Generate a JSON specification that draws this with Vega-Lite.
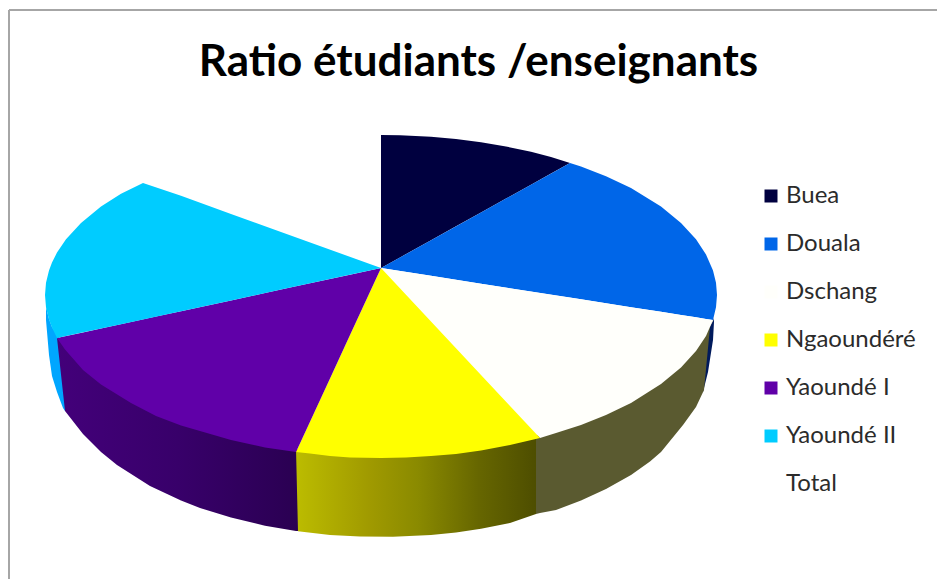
{
"$schema":"https://vega.github.io/schema/vega-lite/v6.json",
"width":937,"height":579,"padding":0,"autosize":{"type":"none"},
"background":"white",
"view":{"stroke":null},
"title":{"text":"Ratio étudiants /enseignants","font":"Lato","fontSize":44,"fontWeight":"bold","color":"#000000","anchor":"middle","offset":-85,"dx":10},
"datasets":{
"frame":[{"x":9,"x2":9,"y":10,"y2":579},{"x":9,"x2":937,"y":10,"y2":10}],
"wallCyan":[{"x":46,"y":307,"y2":320},{"x":49,"y":319,"y2":355},{"x":52,"y":327,"y2":376},{"x":57,"y":335,"y2":392},{"x":63,"y":343,"y2":408},{"x":65,"y":346,"y2":411}],
"wallDouala":[{"x":703,"y":388,"y2":392},{"x":708,"y":330,"y2":372},{"x":713,"y":321,"y2":340},{"x":714,"y":318,"y2":322}],
"wallPurple":[{"x":57,"y":338,"y2":338},{"x":65,"y":346,"y2":411},{"x":83,"y":367,"y2":434},{"x":101,"y":381.5,"y2":452},{"x":117,"y":392.5,"y2":465},{"x":150,"y":410,"y2":486},{"x":181,"y":422.5,"y2":500.6},{"x":200,"y":429,"y2":508},{"x":231,"y":437,"y2":517.6},{"x":265,"y":444.5,"y2":525.7},{"x":296,"y":449,"y2":531},{"x":298,"y":449,"y2":531}],
"wallYellow":[{"x":296,"y":449,"y2":449},{"x":298,"y":449.3,"y2":531.3},{"x":330,"y":453,"y2":534.9},{"x":360,"y":454.8,"y2":536.5},{"x":393,"y":455,"y2":536.8},{"x":431,"y":453,"y2":535},{"x":456,"y":451,"y2":532.4},{"x":481,"y":447.5,"y2":528.7},{"x":510,"y":442,"y2":522.9},{"x":536,"y":436,"y2":514},{"x":540,"y":435,"y2":435}],
"wallWhite":[{"x":536,"y":436,"y2":514},{"x":540,"y":435,"y2":513},{"x":556,"y":430,"y2":510},{"x":581,"y":422,"y2":500.6},{"x":606,"y":412,"y2":489},{"x":631,"y":400,"y2":475},{"x":650,"y":389,"y2":461.5},{"x":661,"y":381,"y2":452},{"x":683,"y":362,"y2":425},{"x":696,"y":348,"y2":407},{"x":704,"y":336,"y2":390},{"x":710,"y":325,"y2":327},{"x":713,"y":319,"y2":320}],
"slices":[
{"slice":"Buea","x":381,"y":135,"y2":268},{"slice":"Buea","x":400,"y":135.3,"y2":257.4},{"slice":"Buea","x":431,"y":136.8,"y2":240.2},{"slice":"Buea","x":456,"y":139,"y2":226.3},{"slice":"Buea","x":481,"y":142.3,"y2":212.4},{"slice":"Buea","x":506,"y":146.5,"y2":198.6},{"slice":"Buea","x":531,"y":151.8,"y2":184.7},{"slice":"Buea","x":551,"y":157,"y2":173.6},{"slice":"Buea","x":570,"y":163,"y2":163},
{"slice":"Douala","x":381,"y":268,"y2":268},{"slice":"Douala","x":431,"y":240.2,"y2":275.8},{"slice":"Douala","x":481,"y":212.4,"y2":283.7},{"slice":"Douala","x":531,"y":184.7,"y2":291.5},{"slice":"Douala","x":570,"y":163,"y2":297.6},{"slice":"Douala","x":581,"y":166.4,"y2":299.3},{"slice":"Douala","x":606,"y":176.2,"y2":303.2},{"slice":"Douala","x":631,"y":188.1,"y2":307.2},{"slice":"Douala","x":661,"y":206.6,"y2":311.8},{"slice":"Douala","x":681,"y":222.9,"y2":315},{"slice":"Douala","x":696,"y":239.3,"y2":317.3},{"slice":"Douala","x":706,"y":254.4,"y2":318.9},{"slice":"Douala","x":713,"y":270.4,"y2":320},{"slice":"Douala","x":716,"y":282.7,"y2":307.3},{"slice":"Douala","x":717,"y":295,"y2":295},
{"slice":"Dschang","x":381,"y":268,"y2":268},{"slice":"Dschang","x":431,"y":275.8,"y2":321.5},{"slice":"Dschang","x":481,"y":283.7,"y2":374.9},{"slice":"Dschang","x":540,"y":292.9,"y2":438},{"slice":"Dschang","x":556,"y":295.4,"y2":433},{"slice":"Dschang","x":581,"y":299.3,"y2":425},{"slice":"Dschang","x":606,"y":303.2,"y2":415},{"slice":"Dschang","x":631,"y":307.2,"y2":403},{"slice":"Dschang","x":661,"y":311.8,"y2":384},{"slice":"Dschang","x":681,"y":315,"y2":367.5},{"slice":"Dschang","x":696,"y":317.3,"y2":351},{"slice":"Dschang","x":706,"y":318.9,"y2":336},{"slice":"Dschang","x":713,"y":320,"y2":320},
{"slice":"Ngaoundéré","x":296,"y":452,"y2":452},{"slice":"Ngaoundéré","x":310,"y":421.7,"y2":453.5},{"slice":"Ngaoundéré","x":330,"y":378.4,"y2":456},{"slice":"Ngaoundéré","x":350,"y":335.1,"y2":457.5},{"slice":"Ngaoundéré","x":381,"y":268,"y2":458},{"slice":"Ngaoundéré","x":406,"y":294.7,"y2":457.5},{"slice":"Ngaoundéré","x":431,"y":321.5,"y2":456},{"slice":"Ngaoundéré","x":456,"y":348.2,"y2":454},{"slice":"Ngaoundéré","x":481,"y":374.9,"y2":450.5},{"slice":"Ngaoundéré","x":510,"y":405.9,"y2":445},{"slice":"Ngaoundéré","x":540,"y":438,"y2":438},
{"slice":"Yaoundé I","x":57,"y":338,"y2":338},{"slice":"Yaoundé I","x":65,"y":336.3,"y2":349.4},{"slice":"Yaoundé I","x":83,"y":332.4,"y2":370},{"slice":"Yaoundé I","x":101,"y":328.5,"y2":384.5},{"slice":"Yaoundé I","x":131,"y":322,"y2":403},{"slice":"Yaoundé I","x":156,"y":316.6,"y2":416},{"slice":"Yaoundé I","x":181,"y":311.2,"y2":425.5},{"slice":"Yaoundé I","x":231,"y":300.4,"y2":440},{"slice":"Yaoundé I","x":265,"y":293,"y2":447.5},{"slice":"Yaoundé I","x":296,"y":286.3,"y2":452},{"slice":"Yaoundé I","x":310,"y":283.3,"y2":421.7},{"slice":"Yaoundé I","x":330,"y":279,"y2":378.4},{"slice":"Yaoundé I","x":350,"y":274.7,"y2":335.1},{"slice":"Yaoundé I","x":381,"y":268,"y2":268},
{"slice":"Yaoundé II","x":45,"y":295,"y2":295},{"slice":"Yaoundé II","x":46,"y":282.7,"y2":307.3},{"slice":"Yaoundé II","x":49,"y":270.4,"y2":319.6},{"slice":"Yaoundé II","x":52,"y":262.5,"y2":327.5},{"slice":"Yaoundé II","x":57,"y":252.6,"y2":338},{"slice":"Yaoundé II","x":66,"y":239.3,"y2":336},{"slice":"Yaoundé II","x":81,"y":222.9,"y2":332.8},{"slice":"Yaoundé II","x":101,"y":206.6,"y2":328.5},{"slice":"Yaoundé II","x":121,"y":193.7,"y2":324.2},{"slice":"Yaoundé II","x":143,"y":183,"y2":319.4},{"slice":"Yaoundé II","x":181,"y":195.8,"y2":311.2},{"slice":"Yaoundé II","x":231,"y":213.9,"y2":300.4},{"slice":"Yaoundé II","x":281,"y":231.9,"y2":289.6},{"slice":"Yaoundé II","x":331,"y":250,"y2":278.8},{"slice":"Yaoundé II","x":381,"y":268,"y2":268}
]},
"encoding":{
"x":{"field":"x","type":"quantitative","axis":null,"scale":{"domain":[0,937],"nice":false,"zero":false}},
"y":{"field":"y","type":"quantitative","axis":null,"stack":null,"scale":{"domain":[579,0],"nice":false,"zero":false}},
"y2":{"field":"y2"}
},
"layer":[
{"data":{"name":"frame"},"mark":{"type":"rule","stroke":"#a6a6a6","strokeWidth":2},"encoding":{"x2":{"field":"x2"}}},
{"data":{"name":"wallCyan"},"mark":{"type":"area","color":"#00a6ff"}},
{"data":{"name":"wallDouala"},"mark":{"type":"area","color":"#001a5c"}},
{"data":{"name":"wallPurple"},"mark":{"type":"area","color":{"gradient":"linear","x1":0,"x2":1,"y1":0,"y2":0,"stops":[{"offset":0,"color":"#43007a"},{"offset":0.5,"color":"#38006a"},{"offset":1,"color":"#2a0052"}]}}},
{"data":{"name":"wallYellow"},"mark":{"type":"area","color":{"gradient":"linear","x1":0,"x2":1,"y1":0,"y2":0,"stops":[{"offset":0,"color":"#bcbc00"},{"offset":0.3,"color":"#a09a00"},{"offset":0.5,"color":"#8a8a00"},{"offset":0.75,"color":"#666600"},{"offset":1,"color":"#4c4c00"}]}}},
{"data":{"name":"wallWhite"},"mark":{"type":"area","color":"#5a5a30"}},
{"data":{"name":"slices"},"mark":{"type":"area"},"encoding":{"color":{"field":"slice","type":"nominal","sort":null,
"scale":{"domain":["Buea","Douala","Dschang","Ngaoundéré","Yaoundé I","Yaoundé II","Total"],"range":["#00003f","#0066e8","#fffffb","#ffff00","#6000a8","#00ccff","#ffffff"]},
"legend":{"title":null,"orient":"none","legendX":759,"legendY":184,"symbolType":"square","symbolSize":169,"symbolStrokeWidth":0,"symbolOpacity":1,"labelFont":"Lato","labelFontSize":24,"labelColor":"#2b2b2b","labelOffset":3,"rowPadding":24,"labelLimit":200}}}}
]
}
